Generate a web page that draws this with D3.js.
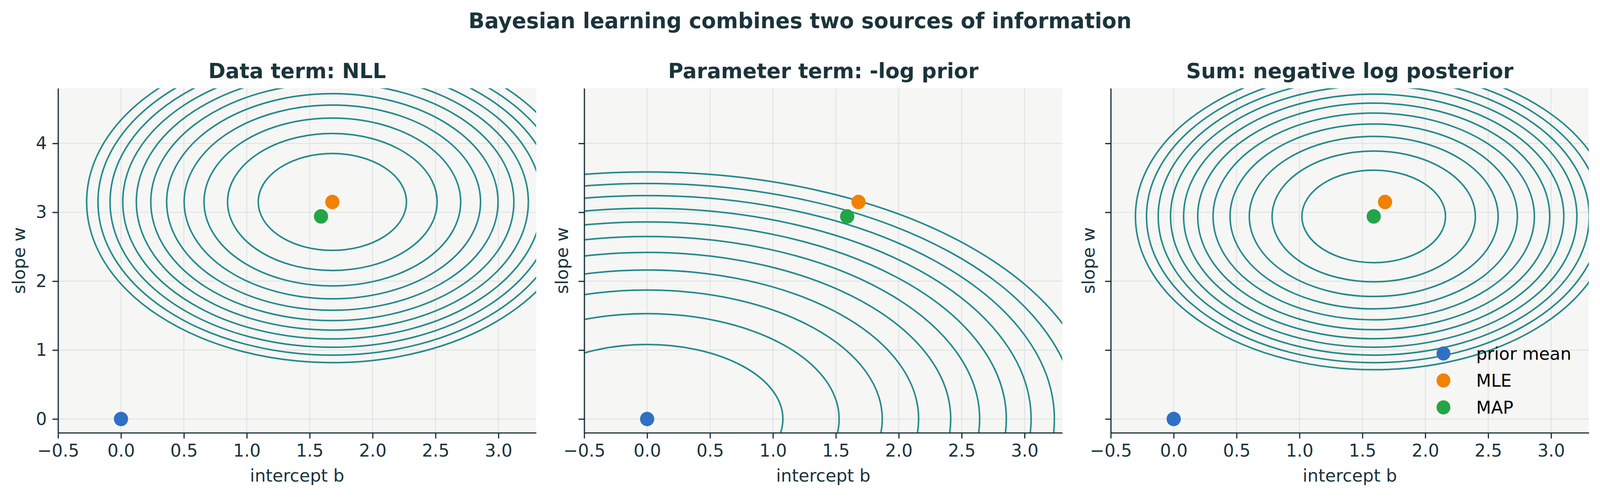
<!DOCTYPE html>
<html>
<head>
<meta charset="utf-8">
<script src="https://cdn.jsdelivr.net/npm/d3@7"></script>
<style>
  html, body { margin: 0; padding: 0; overflow: hidden; background: #fff; }
  #chart { display: block; width: 100vw; height: 100vh; }
  text { font-family: "DejaVu Sans", sans-serif; }
</style>
</head>
<body>
<svg id="chart" viewBox="0 0 4160 1275" preserveAspectRatio="none"></svg>
<script>
// ---- data ----
const suptitle = "Bayesian learning combines two sources of information";
const panelTitles = ["Data term: NLL", "Parameter term: -log prior", "Sum: negative log posterior"];
const xLabel = "intercept b";
const yLabel = "slope w";
const xTicks = [-0.5, 0.0, 0.5, 1.0, 1.5, 2.0, 2.5, 3.0];
const yTicks = [0, 1, 2, 3, 4];
const xDomain = [-0.5, 3.3];
const yDomain = [-0.2, 4.8];

const priorMean = [0, 0];
const mle = [1.68, 3.15];
const mapEst = [1.59, 2.94];

// contour ellipses: centre + half-widths (b) and half-heights (w) of each level
const nllCenter = [1.68, 3.15];
const nllSemiB = [0.589, 0.833, 1.020, 1.178, 1.317, 1.443, 1.558, 1.666, 1.767, 1.863, 1.953];
const nllSemiW = [0.703, 0.994, 1.218, 1.406, 1.572, 1.722, 1.860, 1.988, 2.109, 2.223, 2.332];

const priorCenter = [0, 0];
const priorSemiB = [1.079, 1.526, 1.869, 2.158, 2.413, 2.643, 2.855, 3.052, 3.237, 3.412, 3.579];
const priorSemiW = [1.081, 1.529, 1.872, 2.162, 2.417, 2.648, 2.860, 3.058, 3.243, 3.418, 3.585];

const postCenter = [1.59, 2.94];
const postSemiB = [0.571, 0.808, 0.989, 1.142, 1.277, 1.399, 1.511, 1.615, 1.713, 1.806, 1.894];
const postSemiW = [0.671, 0.949, 1.162, 1.342, 1.500, 1.644, 1.775, 1.898, 2.013, 2.122, 2.225];

const legendLabels = ["prior mean", "MLE", "MAP"];
const pointColors = ["#3070c4", "#f18100", "#23a547"];

// ---- layout ----
const ink = "#1b343c";
const panelLeft = [151, 1519, 2888];
const panelTop = 226;
const panelW = 1243;
const panelH = 882;

const svg = d3.select("#chart");

svg.append("text")
  .attr("x", 2080).attr("y", 72)
  .attr("text-anchor", "middle")
  .attr("font-size", 55).attr("font-weight", "bold")
  .attr("fill", ink)
  .text(suptitle);

const x = d3.scaleLinear().domain(xDomain).range([0, panelW]);
const y = d3.scaleLinear().domain(yDomain).range([panelH, 0]);

const panels = [
  { center: nllCenter, semiB: nllSemiB, semiW: nllSemiW },
  { center: priorCenter, semiB: priorSemiB, semiW: priorSemiW },
  { center: postCenter, semiB: postSemiB, semiW: postSemiW },
];

panels.forEach((p, i) => {
  const g = svg.append("g").attr("transform", `translate(${panelLeft[i]},${panelTop})`);

  g.append("rect")
    .attr("width", panelW).attr("height", panelH)
    .attr("fill", "#f6f6f4");

  // grid
  g.append("g").selectAll("line")
    .data(xTicks)
    .join("line")
    .attr("x1", d => x(d)).attr("x2", d => x(d))
    .attr("y1", 0).attr("y2", panelH)
    .attr("stroke", "#dde2e2").attr("stroke-width", 2.2);
  g.append("g").selectAll("line")
    .data(yTicks)
    .join("line")
    .attr("y1", d => y(d)).attr("y2", d => y(d))
    .attr("x1", 0).attr("x2", panelW)
    .attr("stroke", "#dde2e2").attr("stroke-width", 2.2);

  // contours
  const clipId = "clip" + i;
  g.append("clipPath").attr("id", clipId)
    .append("rect").attr("width", panelW).attr("height", panelH);

  g.append("g")
    .attr("clip-path", `url(#${clipId})`)
    .selectAll("ellipse")
    .data(d3.zip(p.semiB, p.semiW))
    .join("ellipse")
    .attr("cx", x(p.center[0]))
    .attr("cy", y(p.center[1]))
    .attr("rx", d => x(p.center[0] + d[0]) - x(p.center[0]))
    .attr("ry", d => y(p.center[1]) - y(p.center[1] + d[1]))
    .attr("fill", "none")
    .attr("stroke", "#238a8c")
    .attr("stroke-width", 4);

  // points
  g.append("g").selectAll("circle")
    .data([priorMean, mle, mapEst])
    .join("circle")
    .attr("cx", d => x(d[0]))
    .attr("cy", d => y(d[1]))
    .attr("r", 18.5)
    .attr("fill", (d, j) => pointColors[j]);

  // axes
  const xAxis = g.append("g")
    .attr("transform", `translate(0,${panelH})`)
    .call(d3.axisBottom(x).tickValues(xTicks).tickSize(14.6).tickPadding(14.6).tickSizeOuter(0)
      .tickFormat(d3.format(".1f")));
  const yAxis = g.append("g")
    .call(d3.axisLeft(y).tickValues(yTicks).tickSize(14.6).tickPadding(14.6).tickSizeOuter(0)
      .tickFormat(i === 0 ? d3.format("d") : () => ""));

  [xAxis, yAxis].forEach(a => {
    a.attr("font-size", null).attr("font-family", null);
    a.select(".domain").attr("stroke", ink).attr("stroke-width", 3.2);
    a.selectAll(".tick line").attr("stroke", ink).attr("stroke-width", 3.2);
    a.selectAll(".tick text").attr("fill", ink).attr("font-size", 45);
  });

  g.append("text")
    .attr("x", panelW / 2).attr("y", 200 - panelTop)
    .attr("text-anchor", "middle")
    .attr("font-size", 54).attr("font-weight", "bold")
    .attr("fill", ink)
    .text(panelTitles[i]);

  g.append("text")
    .attr("x", panelW / 2).attr("y", panelH + 125)
    .attr("text-anchor", "middle")
    .attr("font-size", 45)
    .attr("fill", ink)
    .text(xLabel);

  g.append("text")
    .attr("transform", `translate(${i === 0 ? -86 : -42},${panelH / 2}) rotate(-90)`)
    .attr("text-anchor", "middle")
    .attr("font-size", 45)
    .attr("fill", ink)
    .text(yLabel);

  if (i === 2) {
    const leg = g.append("g").selectAll("g")
      .data(legendLabels)
      .join("g")
      .attr("transform", (d, j) => `translate(865,${679 + j * 69})`);
    leg.append("circle").attr("r", 18).attr("fill", (d, j) => pointColors[j]);
    leg.append("text")
      .attr("x", 85).attr("y", 16)
      .attr("font-size", 45)
      .attr("fill", "#000")
      .text(d => d);
  }
});
</script>
</body>
</html>
